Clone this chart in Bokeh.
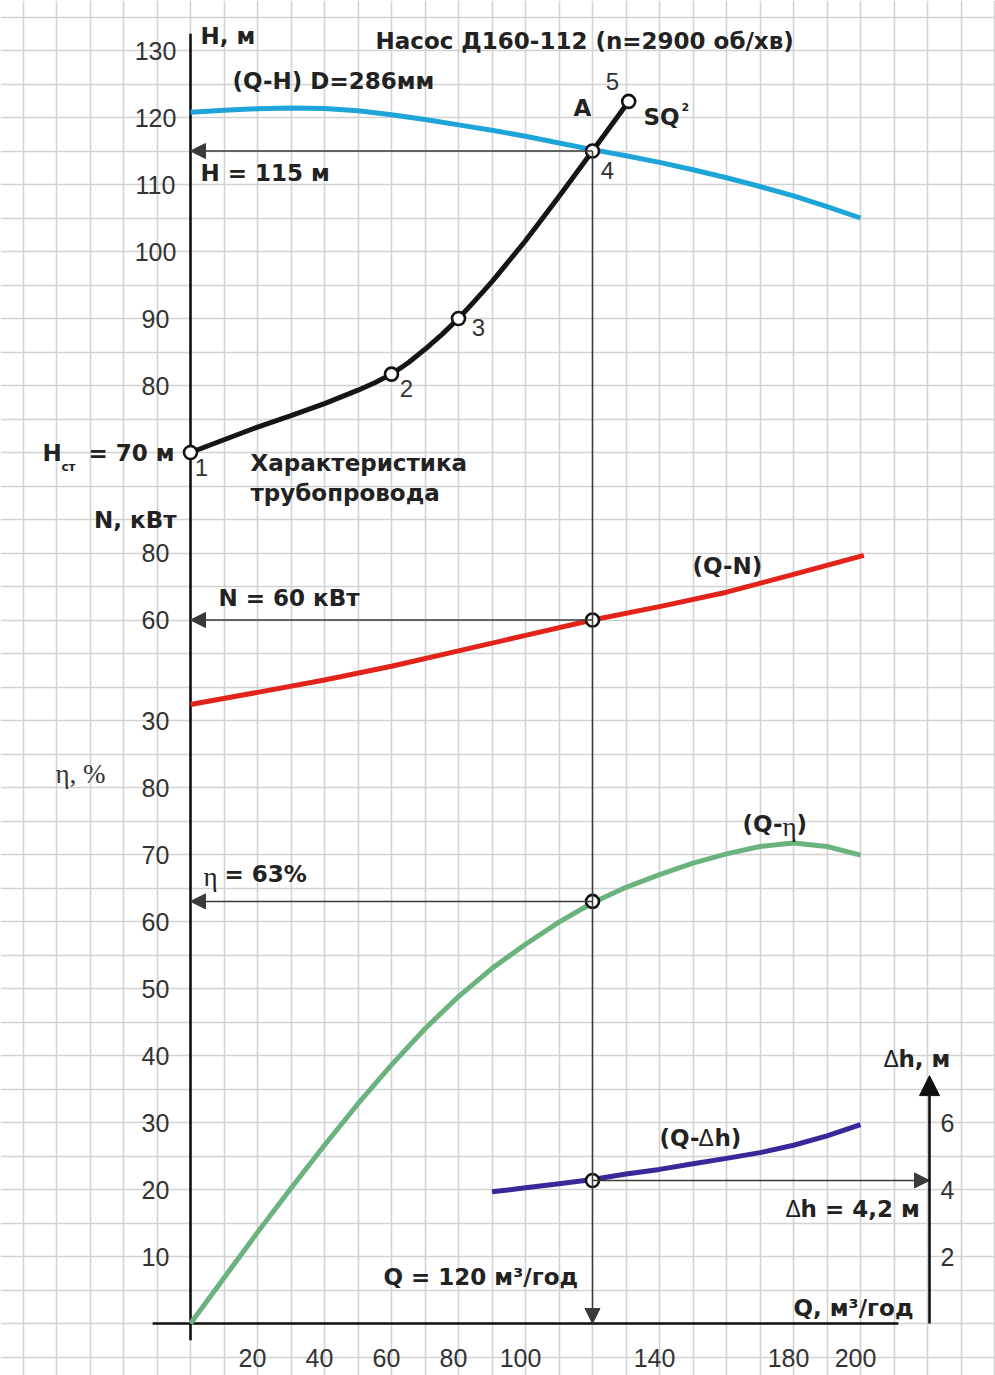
from bokeh.plotting import figure
from bokeh.models import Range1d, FixedTicker, Arrow, NormalHead, Grid
from bokeh.core.properties import value
from bokeh.embed import file_html
from bokeh.resources import INLINE

# ---------------- data ----------------
# pump head curve (Q-H), D=286 mm
q_pump_h = [0, 10, 20, 30, 40, 50, 60, 70, 80, 90, 100, 110, 120, 130, 140, 150, 160, 170, 180, 190, 200]
h_pump = [120.8, 121.1, 121.3, 121.42, 121.35, 121.0, 120.4, 119.7, 118.9, 118.1, 117.2, 116.2,
          115.2, 114.3, 113.3, 112.2, 111.0, 109.7, 108.3, 106.7, 105.0]

# pipeline characteristic H = Hst + SQ^2
q_pipe = [0, 10, 20, 30, 40, 50, 55, 60, 65, 70, 75, 80, 85, 90, 100, 110, 120, 130.8]
h_pipe = [70, 71.9, 73.8, 75.5, 77.3, 79.3, 80.4, 81.7, 83.4, 85.4, 87.6, 90.0, 92.7, 95.5,
          101.6, 108.2, 115.0, 122.4]
q_pipe_pts = [0, 60, 80, 120, 130.8]
h_pipe_pts = [70, 81.7, 90.0, 115.0, 122.4]
pipe_pt_labels = ["1", "2", "3", "4", "5"]

# power curve (Q-N), kW
q_power = [0, 20, 40, 60, 80, 100, 120, 140, 160, 180, 201]
n_power = [34.8, 38.4, 42.1, 46.2, 50.8, 55.4, 60.0, 64.0, 68.3, 73.6, 79.3]

# efficiency curve (Q-eta), %
q_eff = [0, 10, 20, 30, 40, 50, 60, 70, 80, 90, 100, 110, 120, 130, 140, 150, 160, 170, 180, 190, 200]
eta_eff = [0, 6.8, 13.6, 20.2, 26.6, 32.8, 38.6, 44.0, 48.8, 53.0, 56.6, 59.9, 62.8, 65.1, 67.0,
           68.7, 70.1, 71.2, 71.7, 71.2, 69.9]

# NPSH curve (Q-dh), m
q_npsh = [90, 100, 110, 120, 130, 140, 150, 160, 170, 180, 190, 200]
dh_npsh = [3.93, 4.05, 4.17, 4.3, 4.46, 4.6, 4.77, 4.93, 5.1, 5.32, 5.6, 5.94]

# operating point A
op_q = 120
op_h = 115
op_n = 60
op_eta = 63
op_dh = 4.27

# tick labels
q_ticks = [20, 40, 60, 80, 100, 140, 180, 200]
h_ticks = [80, 90, 100, 110, 120, 130]
n_ticks = [30, 60, 80]
eta_ticks = [10, 20, 30, 40, 50, 60, 70, 80]
dh_ticks = [2, 4, 6]

# ---------------- layout / scales ----------------
W, HGT = 995, 1375
X0_PX, PX_PER_Q = 190.0, 3.35        # picture x of Q=0, px per m3/h
Y70_PX, PX_PER_H = 452.0, 6.7        # picture y of H=70 m, px per m
FX, FY = 0.0, 0.0                    # frame offset in the picture

x_start = (FX - X0_PX) / PX_PER_Q
x_end = (FX + W - X0_PX) / PX_PER_Q
h_end = 70 + (Y70_PX - FY) / PX_PER_H
h_start = 70 - (FY + HGT - Y70_PX) / PX_PER_H

# secondary scales expressed through H: H = N/2 + 15 ; H = eta - 60 ; H = 5*dh - 60
n_rng = Range1d(2 * (h_start - 15), 2 * (h_end - 15))
eta_rng = Range1d(h_start + 60, h_end + 60)
dh_rng = Range1d((h_start + 60) / 5, (h_end + 60) / 5)


def at(px, py):
    """picture pixel -> (Q, H) data coordinates (for annotation text placement)"""
    return (px - X0_PX) / PX_PER_Q, 70 + (Y70_PX - py) / PX_PER_H


p = figure(width=W, height=HGT, x_range=Range1d(x_start, x_end), y_range=Range1d(h_start, h_end),
           x_axis_type=None, y_axis_type=None, toolbar_location=None, output_backend="svg",
           min_border=0, outline_line_color=None, background_fill_color="white",
           border_fill_color="white")
p.extra_y_ranges = {"N": n_rng, "eta": eta_rng, "dh": dh_rng}

# graph-paper grid
gx = Grid(dimension=0, ticker=FixedTicker(ticks=[-50 + 10 * i for i in range(30)]),
          grid_line_color="#d2d2d2", grid_line_width=1.6)
gy = Grid(dimension=1, ticker=FixedTicker(ticks=[-65 + 5 * i for i in range(41)]),
          grid_line_color="#d2d2d2", grid_line_width=1.6)
p.add_layout(gx, "center")
p.add_layout(gy, "center")

GUIDE = "#3a3a3a"
head = lambda s: NormalHead(size=s, fill_color=GUIDE, line_color=GUIDE, line_width=1)

# guide lines with arrows
p.add_layout(Arrow(x_start=op_q, y_start=op_h, x_end=0, y_end=op_h, line_color=GUIDE,
                   line_width=1.5, end=head(15)))
p.add_layout(Arrow(x_start=op_q, y_start=op_h, x_end=op_q, y_end=0 - 60, line_color=GUIDE,
                   line_width=1.5, end=head(15)))
p.add_layout(Arrow(x_start=op_q, y_start=op_n, x_end=0, y_end=op_n, line_color=GUIDE,
                   line_width=1.5, end=head(15), y_range_name="N"))
p.add_layout(Arrow(x_start=op_q, y_start=op_eta, x_end=0, y_end=op_eta, line_color=GUIDE,
                   line_width=1.5, end=head(15), y_range_name="eta"))
DH_AXIS_Q = (929 - X0_PX) / PX_PER_Q
p.add_layout(Arrow(x_start=op_q, y_start=op_dh, x_end=DH_AXIS_Q, y_end=op_dh, line_color=GUIDE,
                   line_width=1.5, end=head(15), y_range_name="dh"))

# axes lines
p.line(x=[0, 0], y=[-62.5, 132.5], line_color="#111111", line_width=2.6)
p.line(x=[-11.3, 211.3], y=[0, 0], line_color="#111111", line_width=2.6, y_range_name="eta")
p.add_layout(Arrow(x_start=DH_AXIS_Q, y_start=0, x_end=DH_AXIS_Q, y_end=7.4, line_color="#111111",
                   line_width=2.6, y_range_name="dh",
                   end=NormalHead(size=20, fill_color="#111111", line_color="#111111")))

# curves
LW = 5
p.line(q_pump_h, h_pump, line_color="#1ea4d8", line_width=LW, line_join="round")
p.line(q_pipe, h_pipe, line_color="#151515", line_width=LW, line_join="round", line_cap="round")
p.line(q_power, n_power, line_color="#e2231a", line_width=LW, line_join="round", y_range_name="N")
p.line(q_eff, eta_eff, line_color="#6bb37e", line_width=LW, line_join="round", y_range_name="eta")
p.line(q_npsh, dh_npsh, line_color="#38299a", line_width=LW, line_join="round", y_range_name="dh")

# points
CIRC = dict(marker="circle", size=13, fill_color="white", line_color="#111111", line_width=2.6)
p.scatter(q_pipe_pts, h_pipe_pts, **CIRC)
p.scatter([op_q], [op_n], y_range_name="N", **CIRC)
p.scatter([op_q], [op_eta], y_range_name="eta", **CIRC)
p.scatter([op_q], [op_dh], y_range_name="dh", **CIRC)

BOLD = "DejaVu Sans"
REG = "Liberation Sans"
SERIF = "Liberation Serif"
TXT = "#222222"
TICK = "#333333"


def label(x, y, text, font=BOLD, size="23px", style="bold", align="left", color=TXT, rng="default"):
    p.text(x=[x], y=[y], text=[text], y_range_name=rng, text_font=value(font),
           text_font_size=size, text_font_style=style, text_align=align,
           text_baseline="middle", text_color=color)


def plabel(px, py, text, **kw):
    x, y = at(px, py)
    label(x, y, text, **kw)


# tick labels
tx, _ = at(155, 0)
p.text(x=[tx] * len(h_ticks), y=h_ticks, text=[str(t) for t in h_ticks], text_font=value(REG),
       text_font_size="25px", text_align="center", text_baseline="middle", text_color=TICK)
p.text(x=[tx] * len(n_ticks), y=n_ticks, text=[str(t) for t in n_ticks], text_font=value(REG),
       text_font_size="25px", text_align="center", text_baseline="middle", text_color=TICK,
       y_range_name="N")
p.text(x=[tx] * len(eta_ticks), y=eta_ticks, text=[str(t) for t in eta_ticks], text_font=value(REG),
       text_font_size="25px", text_align="center", text_baseline="middle", text_color=TICK,
       y_range_name="eta")
_, qy = at(0, 1357)
p.text(x=q_ticks, y=[qy] * len(q_ticks), text=[str(t) for t in q_ticks], text_font=value(REG),
       text_font_size="25px", text_align="center", text_baseline="middle", text_color=TICK,
       x_offset=-5)
dx, _ = at(940, 0)
p.text(x=[dx] * len(dh_ticks), y=dh_ticks, text=[str(t) for t in dh_ticks], text_font=value(REG),
       text_font_size="25px", text_align="left", text_baseline="middle", text_color=TICK,
       y_range_name="dh")

# point numbers
for (px, py), t in zip([(201, 467), (406, 388), (478, 327), (607, 170), (612, 81)], pipe_pt_labels):
    plabel(px, py, t, font=REG, size="24px", style="normal", align="center", color=TICK)

# texts
plabel(375, 40, "Насос Д160-112 (n=2900 об/хв)")
plabel(200, 35, "H, м")
plabel(232, 80, "(Q-H) D=286мм")
plabel(200, 172, "H = 115 м")
plabel(582, 107, "A", align="center")
plabel(643, 116, "SQ")
plabel(681, 106, "2", size="11px")
plabel(42, 452, "H")
plabel(61, 466, "ст", size="12px")
plabel(88, 452, "= 70 м")
plabel(250, 462, "Характеристика")
plabel(250, 492, "трубопровода")
plabel(176, 519, "N, кВт", align="right")
plabel(218, 597, "N = 60 кВт")
plabel(692, 565, "(Q-N)")
plabel(55, 773, "η, %", font=SERIF, size="27px", style="normal", color="#333333")
plabel(742, 823, "(Q-")
plabel(782, 826, "η", font=SERIF, size="27px", style="normal")
plabel(796, 823, ")")
plabel(203, 876, "η", font=SERIF, size="27px", style="normal")
plabel(224, 873, "= 63%")
plabel(659, 1137, "(Q-")
plabel(698, 1137, "Δ", font=REG, size="23px", style="normal")
plabel(714, 1137, "h)")
plabel(883, 1058, "Δ", font=REG, size="23px", style="normal")
plabel(898, 1058, "h, м")
plabel(785, 1208, "Δ", font=REG, size="23px", style="normal")
plabel(800, 1208, "h = 4,2 м")
plabel(383, 1276, "Q = 120 м³/год")
plabel(793, 1307, "Q, м³/год")

open("out.html", "w").write(file_html(p, INLINE))
